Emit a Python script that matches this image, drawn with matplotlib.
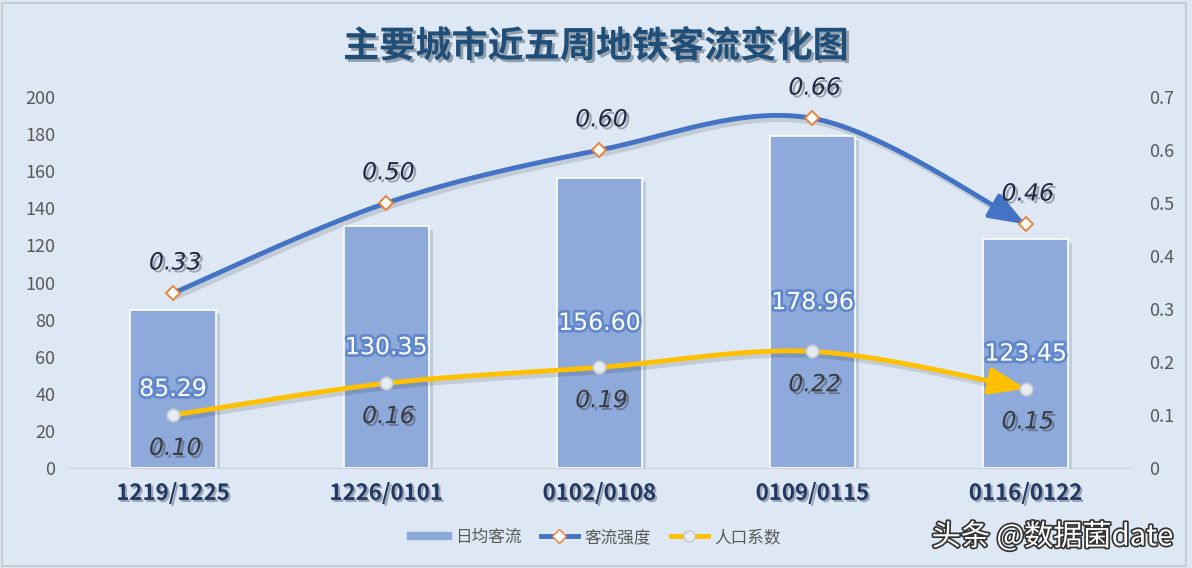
import numpy as np
import matplotlib.pyplot as plt
import matplotlib.patheffects as pe
from matplotlib.lines import Line2D
from matplotlib.patches import Rectangle

plt.rcParams['font.family'] = ['Noto Sans CJK SC', 'DejaVu Sans']

weeks = ["1219/1225", "1226/0101", "0102/0108", "0109/0115", "0116/0122"]
daily_flow = [85.29, 130.35, 156.60, 178.96, 123.45]
flow_intensity = [0.33, 0.50, 0.60, 0.66, 0.46]
pop_coef = [0.10, 0.16, 0.19, 0.22, 0.15]

bg = "#dde8f4"
bar_color = "#8eaadb"
blue = "#4472c4"
yellow = "#ffc000"


def smooth(xs, ys, n=40):
    # excel-like smoothed line (bezier through the points)
    xs = np.asarray(xs, float)
    ys = np.asarray(ys, float)
    px, py = [], []
    for i in range(len(xs) - 1):
        p0 = np.array([xs[max(i - 1, 0)], ys[max(i - 1, 0)]])
        p1 = np.array([xs[i], ys[i]])
        p2 = np.array([xs[i + 1], ys[i + 1]])
        p3 = np.array([xs[min(i + 2, len(xs) - 1)], ys[min(i + 2, len(xs) - 1)]])
        c1 = p1 + (p2 - p0) / 6
        c2 = p2 - (p3 - p1) / 6
        t = np.linspace(0, 1, n)[:, None]
        pts = (1 - t) ** 3 * p1 + 3 * (1 - t) ** 2 * t * c1 + 3 * (1 - t) * t ** 2 * c2 + t ** 3 * p2
        px.extend(pts[:, 0])
        py.extend(pts[:, 1])
    return np.array(px), np.array(py)


fig = plt.figure(figsize=(11.92, 5.68), dpi=100, facecolor=bg)
fig.patches.append(Rectangle((0.002, 0.004), 0.993, 0.99, transform=fig.transFigure,
                             fill=False, edgecolor="#c8ccd2", lw=1.5))
ax = fig.add_axes([0.0558, 0.176, 0.894, 0.653])
ax.set_facecolor(bg)
ax2 = ax.twinx()

x = np.arange(len(weeks))
shadow = [pe.SimplePatchShadow(offset=(3, -3), shadow_rgbFace="#7f8ea3", alpha=0.3), pe.Normal()]
bars = ax.bar(x, daily_flow, width=0.4, color=bar_color, edgecolor="white", lw=1.2, zorder=2)
for b in bars:
    b.set_path_effects(shadow)

ax.set_xlim(-0.5, len(weeks) - 0.5)
ax.set_ylim(0, 200)
ax.set_yticks(range(0, 201, 20))
ax2.set_ylim(0, 0.7)
ax2.set_yticks(np.arange(0, 0.71, 0.1))
ax2.set_yticklabels(["0"] + ["%.1f" % v for v in np.arange(0.1, 0.71, 0.1)])

for a in (ax, ax2):
    for s in a.spines.values():
        s.set_visible(False)
    a.tick_params(length=0, labelsize=13, colors="#595959")
ax.spines["bottom"].set_visible(True)
ax.spines["bottom"].set_color("#d0d4da")
ax.tick_params(axis="y", pad=8)
ax2.tick_params(axis="y", pad=12)
ax.set_xticks(x)
ax.set_xticklabels(weeks, fontsize=16, fontweight="bold", color="#1f3864")
ax.tick_params(axis="x", pad=10)
for lab in ax.get_xticklabels():
    lab.set_path_effects([pe.withSimplePatchShadow(offset=(1.5, -1.5), alpha=0.3)])

glow = [pe.Stroke(linewidth=4, foreground="#4472c4", alpha=0.6), pe.Normal()]
for xi, v in zip(x, daily_flow):
    ax.text(xi, v / 2, "%.2f" % v, ha="center", va="center", fontsize=17,
            color="white", family=["DejaVu Sans"], path_effects=glow, zorder=6)

line_shadow = [pe.SimpleLineShadow(offset=(2, -3), alpha=0.12), pe.Normal()]
for vals, col, mk, mfc, mec, dy in [
        (flow_intensity, blue, "D", "white", "#ed7d31", 0.058),
        (pop_coef, yellow, "o", "#e7ecf2", "#c3cad4", -0.062)]:
    sx, sy = smooth(x, vals)
    k = len(sx) - 10
    ax2.plot(sx[:k + 1], sy[:k + 1], color=col, lw=3.5, zorder=4, path_effects=line_shadow,
             solid_capstyle="round")
    ax2.annotate("", xy=(sx[-1], sy[-1]), xytext=(sx[k], sy[k]),
                 arrowprops=dict(arrowstyle="-|>,head_length=1.2,head_width=0.45",
                                 color=col, lw=3.5, shrinkA=0, shrinkB=0, mutation_scale=18),
                 zorder=4)
    ax2.plot(x, vals, ls="none", marker=mk, ms=7 if mk == "D" else 9, mfc=mfc, mec=mec,
             mew=1.3, zorder=5)
    for xi, v in zip(x, vals):
        ax2.text(xi + 0.01, v + dy, "%.2f" % v, ha="center", va="center", fontsize=17,
                 style="italic", color="#1f2a44" if col == blue else "#3a3a3a",
                 family=["DejaVu Sans"], zorder=6,
                 path_effects=[pe.withSimplePatchShadow(offset=(2, -2), alpha=0.3)])

ax.set_zorder(1)
ax2.set_zorder(2)
ax2.patch.set_visible(False)

fig.text(0.5, 0.918, "主要城市近五周地铁客流变化图", ha="center", va="center", fontsize=26,
         fontweight="bold", color="#1f4e79",
         path_effects=[pe.withSimplePatchShadow(offset=(2, -2), alpha=0.35)])

handles = [
    Line2D([], [], color=bar_color, lw=6),
    Line2D([], [], color=blue, lw=3.5, marker="D", ms=7, mfc="white", mec="#ed7d31"),
    Line2D([], [], color=yellow, lw=3.5, marker="o", ms=8, mfc="#e7ecf2", mec="#c3cad4"),
]
fig.legend(handles, ["日均客流", "客流强度", "人口系数"], loc="center", bbox_to_anchor=(0.5, 0.054),
           ncol=3, frameon=False, fontsize=12, labelcolor="#595959", handlelength=2.2,
           columnspacing=1.2, handletextpad=0.4)

fig.text(0.984, 0.054, "头条 @数据菌date", ha="right", va="center", fontsize=21, color="white",
         path_effects=[pe.Stroke(linewidth=2.5, foreground="#333333"), pe.Normal()])

fig.savefig("out.png", dpi=100, facecolor=bg)
